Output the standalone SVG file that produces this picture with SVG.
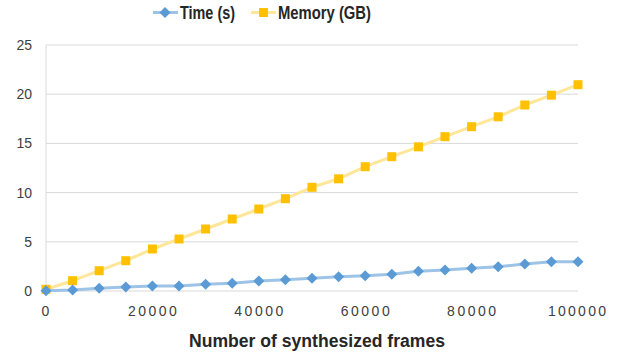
<svg xmlns="http://www.w3.org/2000/svg" width="625" height="356" viewBox="0 0 625 356">
  <style>
    .grid { stroke: #d9d9d9; stroke-width: 1; fill: none; }
    .tick { font-family: "Liberation Sans", Arial, sans-serif; font-size: 14px; fill: #404040; }
    .ytick { text-anchor: end; }
    .xtick { text-anchor: middle; }
    .title { font-family: "Liberation Sans", Arial, sans-serif; font-weight: bold; fill: #262626; }
    .time-line { stroke: #9dc3e6; stroke-width: 3; fill: none; stroke-linejoin: round; }
    .mem-line { stroke: #ffe699; stroke-width: 3; fill: none; stroke-linejoin: round; }
    .time-pt { fill: #5b9bd5; }
    .mem-pt { fill: #ffc000; }
  </style>
  <defs>
    <path id="diamond" d="M0,-5.5 L5.5,0 L0,5.5 L-5.5,0 Z"/>
    <rect id="square" x="-4.5" y="-4.5" width="9" height="9"/>
  </defs>
  <rect width="625" height="356" fill="#ffffff"/>

  <!-- legend -->
  <g id="legend">
    <line x1="153" y1="12.5" x2="178" y2="12.5" class="time-line"/>
    <use href="#diamond" x="165" y="12.5" class="time-pt"/>
    <text x="180" y="18.5" class="title" font-size="17.5" textLength="55" lengthAdjust="spacingAndGlyphs">Time (s)</text>
    <line x1="251" y1="12.5" x2="276" y2="12.5" class="mem-line"/>
    <use href="#square" x="263.5" y="12.5" class="mem-pt"/>
    <text x="278" y="18.5" class="title" font-size="17.5" textLength="93" lengthAdjust="spacingAndGlyphs">Memory (GB)</text>
  </g>

  <!-- grid and axes -->
  <g id="grid">
    <line class="grid" x1="46" y1="45" x2="578" y2="45"/>
    <line class="grid" x1="46" y1="94.2" x2="578" y2="94.2"/>
    <line class="grid" x1="46" y1="143.4" x2="578" y2="143.4"/>
    <line class="grid" x1="46" y1="192.6" x2="578" y2="192.6"/>
    <line class="grid" x1="46" y1="241.8" x2="578" y2="241.8"/>
    <line class="grid" x1="46" y1="291" x2="578" y2="291"/>
    <line class="grid" x1="46" y1="45" x2="46" y2="291"/>
  </g>

  <!-- y tick labels -->
  <g id="y-axis">
    <text class="tick ytick" x="32" y="50">25</text>
    <text class="tick ytick" x="32" y="99.2">20</text>
    <text class="tick ytick" x="32" y="148.4">15</text>
    <text class="tick ytick" x="32" y="197.6">10</text>
    <text class="tick ytick" x="32" y="246.8">5</text>
    <text class="tick ytick" x="32" y="296">0</text>
  </g>

  <!-- x tick labels -->
  <g id="x-axis">
    <text class="tick xtick" x="45.5" y="316">0</text>
    <text class="tick xtick" x="152.4" y="316" textLength="49" lengthAdjust="spacing">20000</text>
    <text class="tick xtick" x="258.8" y="316" textLength="49" lengthAdjust="spacing">40000</text>
    <text class="tick xtick" x="365.2" y="316" textLength="49" lengthAdjust="spacing">60000</text>
    <text class="tick xtick" x="471.6" y="316" textLength="49" lengthAdjust="spacing">80000</text>
    <text class="tick xtick" x="577" y="316" textLength="58" lengthAdjust="spacing">100000</text>
    <text class="title" x="189" y="347" font-size="18" textLength="256" lengthAdjust="spacingAndGlyphs">Number of synthesized frames</text>
  </g>

  <!-- memory series -->
  <g id="memory-series">
    <polyline class="mem-line" points="46,289.3 72.6,280.7 99.2,270.7 125.8,260.7 152.4,249 179,239 205.6,229 232.2,219 258.8,209 285.4,198.7 312,187.3 338.6,178.8 365.2,166.7 391.8,156.7 418.4,146.8 445,136.7 471.6,126.7 498.2,116.8 524.8,105 551.4,95.2 578,84.7"/>
    <g class="mem-pt">
      <use href="#square" x="46" y="289.3"/>
      <use href="#square" x="72.6" y="280.7"/>
      <use href="#square" x="99.2" y="270.7"/>
      <use href="#square" x="125.8" y="260.7"/>
      <use href="#square" x="152.4" y="249"/>
      <use href="#square" x="179" y="239"/>
      <use href="#square" x="205.6" y="229"/>
      <use href="#square" x="232.2" y="219"/>
      <use href="#square" x="258.8" y="209"/>
      <use href="#square" x="285.4" y="198.7"/>
      <use href="#square" x="312" y="187.3"/>
      <use href="#square" x="338.6" y="178.8"/>
      <use href="#square" x="365.2" y="166.7"/>
      <use href="#square" x="391.8" y="156.7"/>
      <use href="#square" x="418.4" y="146.8"/>
      <use href="#square" x="445" y="136.7"/>
      <use href="#square" x="471.6" y="126.7"/>
      <use href="#square" x="498.2" y="116.8"/>
      <use href="#square" x="524.8" y="105"/>
      <use href="#square" x="551.4" y="95.2"/>
      <use href="#square" x="578" y="84.7"/>
    </g>
  </g>

  <!-- time series -->
  <g id="time-series">
    <polyline class="time-line" points="46,290.7 72.6,290 99.2,288.3 125.8,287 152.4,286 179,286 205.6,284.3 232.2,283.3 258.8,281 285.4,279.7 312,278.3 338.6,276.7 365.2,275.7 391.8,274.3 418.4,271.3 445,270 471.6,268.3 498.2,266.7 524.8,264 551.4,261.7 578,261.7"/>
    <g class="time-pt">
      <use href="#diamond" x="46" y="290.7"/>
      <use href="#diamond" x="72.6" y="290"/>
      <use href="#diamond" x="99.2" y="288.3"/>
      <use href="#diamond" x="125.8" y="287"/>
      <use href="#diamond" x="152.4" y="286"/>
      <use href="#diamond" x="179" y="286"/>
      <use href="#diamond" x="205.6" y="284.3"/>
      <use href="#diamond" x="232.2" y="283.3"/>
      <use href="#diamond" x="258.8" y="281"/>
      <use href="#diamond" x="285.4" y="279.7"/>
      <use href="#diamond" x="312" y="278.3"/>
      <use href="#diamond" x="338.6" y="276.7"/>
      <use href="#diamond" x="365.2" y="275.7"/>
      <use href="#diamond" x="391.8" y="274.3"/>
      <use href="#diamond" x="418.4" y="271.3"/>
      <use href="#diamond" x="445" y="270"/>
      <use href="#diamond" x="471.6" y="268.3"/>
      <use href="#diamond" x="498.2" y="266.7"/>
      <use href="#diamond" x="524.8" y="264"/>
      <use href="#diamond" x="551.4" y="261.7"/>
      <use href="#diamond" x="578" y="261.7"/>
    </g>
  </g>
</svg>
